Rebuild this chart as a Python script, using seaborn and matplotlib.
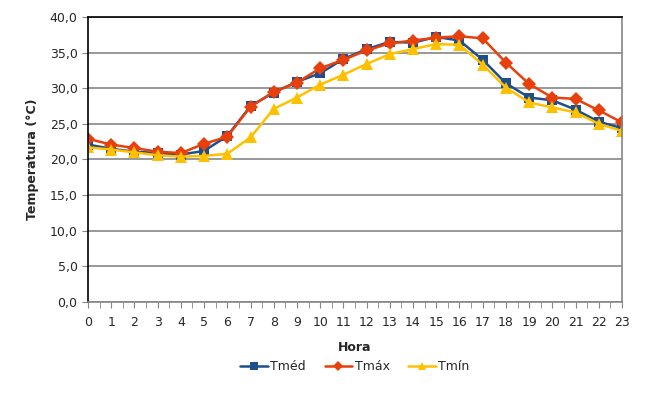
import numpy as np
import pandas as pd
import matplotlib
matplotlib.use("Agg")
import matplotlib.pyplot as plt
from matplotlib.ticker import FuncFormatter, MultipleLocator
import seaborn as sns

hora = list(range(24))
tmed = [22.1, 21.5, 21.1, 20.9, 20.7, 21.2, 23.3, 27.5, 29.4, 30.9, 32.1, 34.1,
        35.5, 36.5, 36.4, 37.2, 36.7, 34.0, 30.7, 28.7, 28.3, 27.0, 25.3, 24.4]
tmax = [22.9, 22.1, 21.6, 21.1, 20.9, 22.2, 23.2, 27.4, 29.5, 30.8, 32.8, 34.0,
        35.3, 36.3, 36.7, 37.1, 37.3, 37.0, 33.6, 30.6, 28.7, 28.5, 26.9, 25.2]
tmin = [21.7, 21.4, 21.0, 20.6, 20.4, 20.5, 20.8, 23.1, 27.1, 28.7, 30.5, 31.9,
        33.4, 34.8, 35.5, 36.2, 36.1, 33.3, 30.1, 28.0, 27.3, 26.6, 25.0, 24.0]
series = ["Tméd", "Tmáx", "Tmín"]

df = pd.DataFrame({"Hora": hora, "Tméd": tmed, "Tmáx": tmax, "Tmín": tmin})
long = df.melt(id_vars="Hora", var_name="Serie", value_name="Temperatura")

sns.set_style("white")
plt.rcParams['font.family'] = ['DejaVu Sans']

palette = {"Tméd": "#1F4E8C", "Tmáx": "#E8400C", "Tmín": "#FFC000"}
markers = {"Tméd": "s", "Tmáx": "D", "Tmín": "^"}
sizes = {"Tméd": 7.5, "Tmáx": 7, "Tmín": 8.5}

fig = plt.figure(figsize=(6.58, 4.01), dpi=100)
ax = fig.add_axes([0.1337, 0.2469, 0.8116, 0.7107])

for s in series:
    sub = long[long["Serie"] == s]
    sns.lineplot(data=sub, x="Hora", y="Temperatura", ax=ax, color=palette[s],
                 marker=markers[s], markersize=sizes[s], markeredgewidth=0,
                 linewidth=1.8, label=s)

ax.set_xlim(0, 23)
ax.set_ylim(0, 40)
ax.yaxis.set_major_locator(MultipleLocator(5))
ax.yaxis.set_major_formatter(FuncFormatter(lambda v, p: f"{v:.1f}".replace(".", ",")))
ax.xaxis.set_major_locator(MultipleLocator(1))
ax.xaxis.set_minor_locator(MultipleLocator(0.5))
ax.grid(axis="y", color="#868686", linewidth=1.2)
ax.set_axisbelow(True)

for side in ["left", "top"]:
    ax.spines[side].set_color("black")
    ax.spines[side].set_linewidth(1.2)
for side in ["right", "bottom"]:
    ax.spines[side].set_visible(True)
    ax.spines[side].set_color("#868686")
    ax.spines[side].set_linewidth(1.2)

ax.tick_params(axis="x", which="both", direction="out", length=4, color="#868686",
               bottom=True, labelsize=9, pad=6)
ax.tick_params(axis="x", which="minor", labelbottom=False)
ax.tick_params(axis="y", direction="out", length=4, color="#868686", left=True,
               labelsize=9)

ax.set_xlabel("Hora", fontsize=9, fontweight="bold", labelpad=9)
ax.set_ylabel("Temperatura (°C)", fontsize=9, fontweight="bold", labelpad=8)

ax.legend(loc="upper center", bbox_to_anchor=(0.5, -0.165), ncol=3, frameon=False,
          fontsize=9, handlelength=2.2, handletextpad=0.2, columnspacing=1.5,
          markerscale=0.75)

fig.savefig("out.png", dpi=100)
